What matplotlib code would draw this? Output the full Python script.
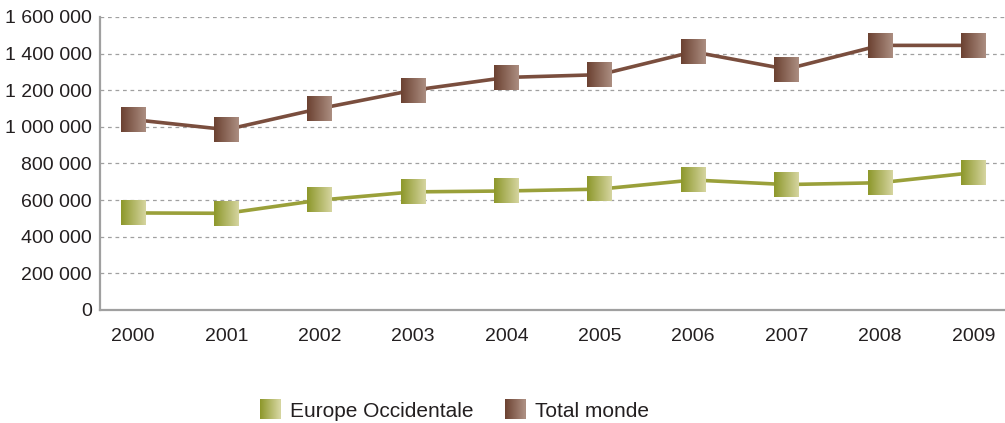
import numpy as np
import matplotlib
matplotlib.use("Agg")
import matplotlib.pyplot as plt
from matplotlib.colors import LinearSegmentedColormap, to_rgb
from matplotlib.offsetbox import OffsetImage, AnnotationBbox
from matplotlib.legend_handler import HandlerBase
from matplotlib.patches import Rectangle
from matplotlib.ticker import FuncFormatter

years = ["2000", "2001", "2002", "2003", "2004", "2005", "2006", "2007", "2008", "2009"]
europe = [530000, 528000, 600000, 645000, 650000, 660000, 710000, 685000, 695000, 750000]
monde = [1040000, 985000, 1100000, 1200000, 1270000, 1285000, 1410000, 1315000, 1445000, 1445000]

labels = ["Europe Occidentale", "Total monde"]
line_cols = ["#9aa03a", "#7a4e3e"]
grad_cols = [("#8e982c", "#d4d49e"), ("#6c4232", "#ab8d80")]

plt.rcParams['font.family'] = ['Liberation Sans', 'DejaVu Sans']

fig = plt.figure(figsize=(10.05, 4.23), dpi=100)
ax = fig.add_axes([100/1005, 1 - 310/423, 905/1005, (310-17)/423])

x = np.arange(len(years))


def grad_img(c0, c1, n=24):
    cm = LinearSegmentedColormap.from_list("g", [c0, c1])
    row = cm(np.linspace(0, 1, n))
    return np.repeat(row[np.newaxis, :, :], n, axis=0)


for vals, lc, gc in zip([europe, monde], line_cols, grad_cols):
    ax.plot(x, vals, color=lc, lw=2.6, zorder=3)
    img = grad_img(*gc)
    for xi, yi in zip(x, vals):
        ab = AnnotationBbox(OffsetImage(img, zoom=0.74), (xi, yi), frameon=False,
                            pad=0, zorder=4)
        ax.add_artist(ab)

ax.set_xlim(-0.354, 9.34)
ax.set_ylim(0, 1600000)
ax.set_yticks(np.arange(0, 1600001, 200000))
ax.yaxis.set_major_formatter(FuncFormatter(lambda v, p: f"{int(v):,}".replace(",", " ")))
ax.set_xticks(x)
ax.set_xticklabels(years)
ax.tick_params(length=0, labelsize=14, colors="#231f20", pad=6)
ax.tick_params(axis="x", pad=13)
ax.grid(axis="y", linestyle=(0, (3, 3)), color="#a0a0a0", lw=0.9)
ax.set_axisbelow(True)
for s in ["top", "right"]:
    ax.spines[s].set_visible(False)
for s in ["left", "bottom"]:
    ax.spines[s].set_color("#a0a0a0")
    ax.spines[s].set_linewidth(1.6)


class GradHandler(HandlerBase):
    def __init__(self, c0, c1):
        super().__init__()
        self.c0 = np.array(to_rgb(c0))
        self.c1 = np.array(to_rgb(c1))

    def create_artists(self, legend, orig_handle, xd, yd, width, height, fontsize, trans):
        n = 20
        side = height * 1.4
        x0 = xd + width - side
        y0 = yd + (height - side) / 2
        arts = []
        for i in range(n):
            t = i / (n - 1)
            c = self.c0 * (1 - t) + self.c1 * t
            arts.append(Rectangle((x0 + side * i / n, y0), side / n * 1.05, side,
                                  facecolor=c, edgecolor="none", transform=trans))
        return arts


handles = [Rectangle((0, 0), 1, 1) for _ in labels]
fig.legend(handles, labels, loc="center", bbox_to_anchor=(0.452, 1 - 411/423),
           ncol=2, frameon=False, fontsize=15, handlelength=1.0, handletextpad=0.45,
           columnspacing=1.5, labelcolor="#231f20",
           handler_map={handles[0]: GradHandler(*grad_cols[0]),
                        handles[1]: GradHandler(*grad_cols[1])})

fig.savefig("out.png", dpi=100)
